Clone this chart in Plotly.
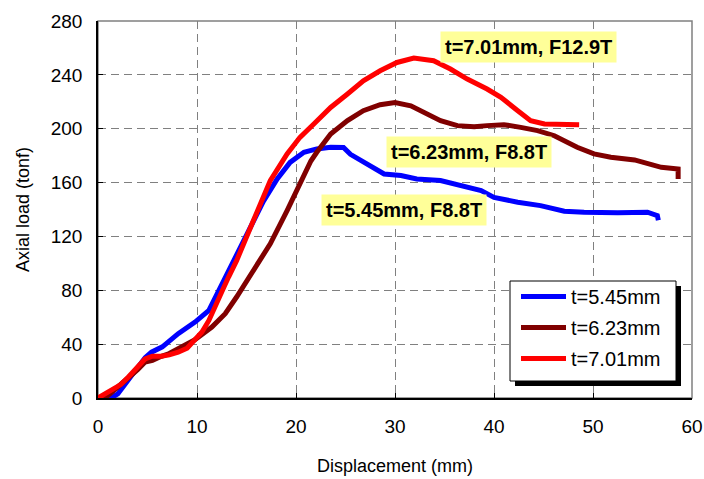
import plotly.graph_objects as go

# ---- data ----
x_545 = [0, 1.3, 2.0, 3.07, 4.0, 4.76, 5.4, 6.5, 8.1, 9.8, 11.2, 11.6, 12.2, 12.8, 13.4, 14.0, 15.4, 16.7, 18.1,
         19.4, 20.8, 22.1, 23.5, 24.8, 25.5, 26.5, 27.2, 28.9, 30.6, 32.2, 34.6, 36.6, 38.7, 40.0, 42.4,
         44.7, 47.1, 49.1, 52.5, 55.5, 56.5, 56.6]
y_545 = [0, 0, 3, 13, 22, 30, 34, 38, 47.8, 56.4, 65, 71, 79, 88, 96, 105, 126, 146, 162.7,
         175, 182.5, 185, 186.2, 186, 181, 177, 173.8, 166.4, 165.2, 162.7, 161.5, 157.8, 154, 149, 145.4,
         142.9, 138.7, 138, 137.5, 138, 135.5, 132]

x_623 = [0, 0.7, 1.5, 2.3, 3.07, 4.0, 4.76, 5.5, 6.4, 7.2, 8.1, 9.0, 9.8, 11.5, 12.85, 14.0, 15.7, 17.4,
         19.1, 20.4, 21.5, 22.1, 23.5, 25.2, 26.8, 28.5, 30.0, 31.6, 32.9, 34.6, 36.3, 38.0, 39.3, 41.0,
         42.7, 44.4, 46.1, 48.4, 50.1, 51.8, 54.2, 55.5, 56.9, 58.6, 58.6]
y_623 = [0, 0, 5, 10, 15.6, 21, 26.7, 28, 31, 33, 36.6, 40, 43.3, 52.7, 62.6, 75, 94.7, 114.5,
         139.2, 160, 176, 182.5, 196, 206, 213.4, 217.8, 219.5, 217, 212, 206, 202.3, 201.5, 202.3, 203,
         201, 198.6, 194.8, 186.2, 181.3, 178.8, 176.8, 173.8, 171.3, 170.1, 162.7]

x_701 = [0, 0.5, 1.0, 1.7, 2.3, 3.07, 4.0, 4.75, 5.5, 6.4, 7.2, 8.1, 9.0, 9.8, 10.5, 11.2, 12.2, 12.7,
         13.2, 14.0, 15.7, 17.4, 19.1, 20.4, 21.8, 23.5, 25.2, 26.8, 28.5, 30.2, 31.9, 32.5, 33.9, 35.6,
         37.3, 39.3, 40.7, 42.4, 43.7, 45.1, 47.4, 48.6]
y_701 = [0, 2, 5, 7, 10, 15.6, 23, 29, 31, 31, 32, 34, 37, 42.8, 49, 57.6, 75, 82,
         90, 102, 131.8, 161.5, 181.3, 193.6, 203.5, 215.8, 225.8, 235.6, 243, 249.2, 252.5, 252, 250.5, 244.3,
         236.9, 229.5, 223.3, 213.4, 206, 203.5, 203.5, 203]

series_names = ["t=5.45mm", "t=6.23mm", "t=7.01mm"]
series_colors = ["#0000FF", "#800000", "#FF0000"]

x_ticks = [0, 10, 20, 30, 40, 50, 60]
y_ticks = [0, 40, 80, 120, 160, 200, 240, 280]

labels = ["t=7.01mm, F12.9T", "t=6.23mm, F8.8T", "t=5.45mm, F8.8T"]
label_x = [43.46, 37.5, 30.9]
label_y = [260.9, 183.0, 140.0]

FONT = "Liberation Sans, Arial, sans-serif"

fig = go.Figure()
for xs, ys, name, col in zip([x_545, x_623, x_701], [y_545, y_623, y_701], series_names, series_colors):
    fig.add_trace(go.Scatter(x=xs, y=ys, mode="lines", name=name, legendgroup=name,
                             line=dict(color=col, width=5)))

for t, lx, ly in zip(labels, label_x, label_y):
    fig.add_annotation(x=lx, y=ly, xref="x", yref="y", text="<b>" + t + "</b>", showarrow=False,
                       font=dict(family=FONT, size=20, color="black"),
                       bgcolor="#FFFF99", borderpad=4)

axis_common = dict(showline=True, linecolor="black", linewidth=1.5, ticks="inside", ticklen=5,
                   tickcolor="black", showgrid=True, gridcolor="#808080", gridwidth=1,
                   griddash="8px,5px", zeroline=False, automargin=False,
                   tickfont=dict(family=FONT, size=19, color="black"),
                   title_font=dict(family=FONT, size=18, color="black"))

fig.update_xaxes(range=[0, 60], tickvals=x_ticks, title_text="Displacement (mm)", title_standoff=24,
                 ticklabelstandoff=10, **axis_common)
fig.update_yaxes(range=[0, 280], tickvals=y_ticks, title_text="Axial load (tonf)", title_standoff=16,
                 ticklabelstandoff=10, **axis_common)


def px_x(p):
    return (p - 98) / 594


def px_y(p):
    return (398 - p) / 377


# plot frame (gray top/right), legend shadow and legend box
fig.add_shape(type="rect", xref="paper", yref="paper", x0=0, y0=0, x1=1, y1=1,
              line=dict(color="#808080", width=1.5), layer="below")
fig.add_shape(type="rect", xref="paper", yref="paper",
              x0=px_x(515), x1=px_x(681), y0=px_y(386), y1=px_y(286),
              line=dict(width=0), fillcolor="black", layer="above")
fig.add_shape(type="rect", xref="paper", yref="paper",
              x0=px_x(510), x1=px_x(676), y0=px_y(381), y1=px_y(281),
              line=dict(color="black", width=1), fillcolor="white", layer="above")

fig.update_layout(
    width=704, height=479,
    margin=dict(l=98, r=12, t=21, b=81),
    paper_bgcolor="white", plot_bgcolor="white",
    font=dict(family=FONT, size=18, color="black"),
    legend=dict(x=px_x(516), y=px_y(277), xanchor="left", yanchor="top",
                bgcolor="rgba(0,0,0,0)", borderwidth=0, itemwidth=45,
                font=dict(family=FONT, size=20, color="black"),
                traceorder="grouped", tracegroupgap=2),
    showlegend=True,
)

fig.write_html("out.html")
